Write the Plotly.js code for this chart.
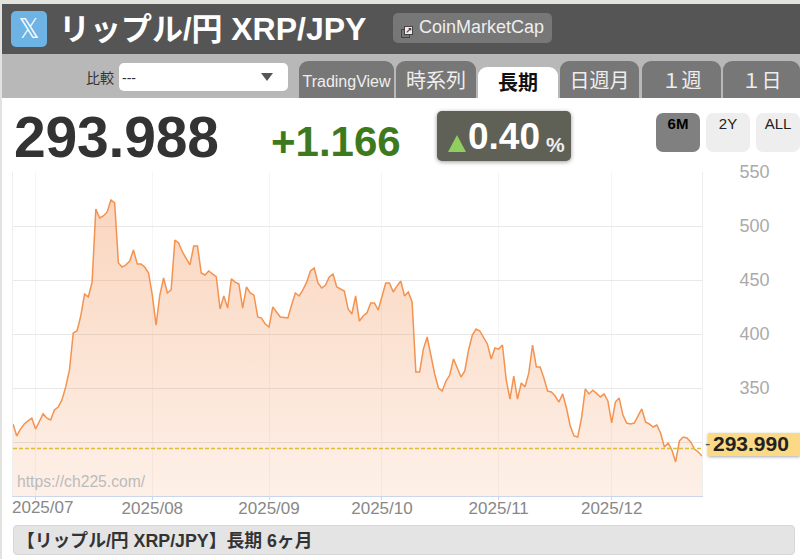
<!DOCTYPE html>
<html lang="ja">
<head>
<meta charset="utf-8">
<script src="https://cdn.plot.ly/plotly-3.0.1.min.js"></script>
<style>
html,body{margin:0;padding:0;width:800px;height:559px;overflow:hidden;background:#fff;
 font-family:"Liberation Sans","Noto Sans CJK JP",sans-serif;}
.a{position:absolute;white-space:nowrap;box-sizing:border-box;}
.tab{top:61px;height:37px;background:#777;color:#eee;border-radius:9px 9px 0 0;text-align:center;font-size:20px;line-height:41px;}
.rb{top:113px;width:44px;height:39px;border-radius:7px;background:#eee;color:#222;text-align:center;font-size:15px;line-height:22px;}
#chart{position:absolute;left:0;top:0;width:800px;height:559px;}
</style>
</head>
<body>
<div class="a" style="left:0;top:0;width:800px;height:4px;background:#e2e2de"></div>
<div class="a" style="left:0;top:0;width:2px;height:559px;background:#e2e2de"></div>
<div class="a" style="left:2px;top:4px;width:798px;height:50px;background:#555"></div>
<div class="a" style="left:2px;top:54px;width:798px;height:44px;background:#b8b8b8"></div>
<div class="a" style="left:11px;top:11px;width:36px;height:36px;background:#6db3e4;border-radius:5px;color:#fff;text-align:center;font:26px/36px 'DejaVu Sans'">𝕏</div>
<div class="a" id="ttl" style="left:59px;top:11px;color:#fff;font-weight:bold;font-size:31px;line-height:36px">リップル/円 <span style="font-size:32px">XRP/JPY</span></div>
<div class="a" style="left:393px;top:13px;width:159px;height:30px;background:#777;border-radius:5px;color:#eee;font-size:18px;line-height:29px;padding-left:26px">CoinMarketCap</div>
<div class="a" style="left:401px;top:29px;width:9px;height:9px;border:1px solid #444"></div>
<div class="a" style="left:404px;top:26px;width:9px;height:9px;background:#eee;border:1px solid #444;color:#333;font:bold 8px/7px 'DejaVu Sans';text-align:center">↗</div>
<div class="a" style="left:86px;top:68px;color:#333;font-size:14px;line-height:20px">比較</div>
<div class="a" style="left:119px;top:63px;width:169px;height:28px;background:#fff;border-radius:5px;color:#333;font-size:14px;line-height:30px;padding-left:3px">---</div>
<div class="a" style="left:261px;top:73px;width:0;height:0;border-left:6px solid transparent;border-right:6px solid transparent;border-top:8px solid #555"></div>
<div class="a tab" style="left:299px;width:95px;font-size:16px">TradingView</div>
<div class="a tab" style="left:396px;width:80px">時系列</div>
<div class="a tab" style="left:478px;top:67px;height:31px;width:80px;background:#fff;color:#111;font-weight:bold;line-height:33px">長期</div>
<div class="a tab" style="left:560px;width:79px">日週月</div>
<div class="a tab" style="left:642px;width:79px">１週</div>
<div class="a tab" style="left:723px;width:77px">１日</div>
<div class="a" style="left:14px;top:102px;color:#333;font-weight:bold;font-size:57px;line-height:70px;letter-spacing:-.2px">293.988</div>
<div class="a" style="left:271px;top:117px;color:#3d7a1e;font-weight:bold;font-size:42px;line-height:50px">+1.166</div>
<div class="a" style="left:437px;top:111px;width:134px;height:50px;background:#5f6156;border-radius:5px;box-shadow:0 1px 4px #999"></div>
<div class="a" style="left:448px;top:135px;width:0;height:0;border-left:9px solid transparent;border-right:9px solid transparent;border-bottom:17px solid #8fce5f"></div>
<div class="a" style="left:468px;top:114px;color:#fff;font-weight:bold;font-size:37px;line-height:46px">0.40</div>
<div class="a" style="left:546px;top:131px;color:#eee;font-weight:bold;font-size:21px;line-height:28px">%</div>
<div class="a rb" style="left:656px;background:#808080;color:#000;font-weight:bold">6M</div>
<div class="a rb" style="left:706px">2Y</div>
<div class="a rb" style="left:756px">ALL</div>
<div class="a" style="left:708px;top:433px;width:92px;height:23px;background:#fbd985;box-shadow:0 1px 3px #aaa"></div>
<div class="a" style="left:13px;top:525px;width:782px;height:30px;background:#e4e4e4;border:1px solid #d6d6d6;border-radius:4px;color:#333;font-weight:bold;font-size:17.8px;line-height:30px;padding-left:3px">【リップル/円 XRP/JPY】長期 6ヶ月</div>
<div id="chart"></div>
<script>
var startDate = "2025-06-25";
var lastPrice = 293.99;
var lastPriceText = "293.990";
var priceValues = [
316.7,305.6,312,316.7,319.5,322,312,319.5,326,322,320.4,329.6,332.4,339,351,366.7,401,402.8,416.7,437,
434.3,448,515.8,507.4,509.3,513,524,521.3,465.8,462,464,467.6,477.8,464.8,464.8,462,456.5,436,408.3,436,
451.9,438,440.8,487,484.3,476,469.5,464,481.5,481.5,456.5,454.6,458.4,455.6,452.8,423.2,435.2,424,451,448,
446.3,424,443.5,438,436,415.8,414.8,409.3,406.5,425,420.4,415.8,415.3,414.8,426.9,438,435.2,440.8,448,458.4,
461,447.2,442.6,445.4,452.8,455.6,443.5,441.7,439.8,423.2,418.5,435.2,412,416.7,419.5,428.7,428.7,422.2,434.3,447.2,
447.2,438.9,444.5,449,435.2,438.9,429.6,364.8,364.8,386,397.2,380,363,350,347.2,356.5,362,376.9,368.5,360.2,
365.8,385.2,399,404.6,402.8,397.2,390.8,376.9,387,386,389.8,357.4,339.8,361,339.8,354.6,351,364,389.8,369.5,
369.5,359.3,347.2,346.3,342.6,337,344.5,331.5,314.8,305.6,304.6,322.2,349,344.5,348,345,341.7,344.5,338,317.6,
337,340.7,325,317.6,316.7,317.6,324,330.6,318.5,316.7,313.9,315.7,308.3,295.4,299,292.6,281.5,301,304.6,303.7,
300,293.5,290.7,287
];
var xTickVals = ["2025-08-01","2025-09-01","2025-10-01","2025-11-01","2025-12-01"];
var xTickText = ["2025/08","2025/09","2025/10","2025/11","2025/12"];
var gridVals = ["2025-07-01"].concat(xTickVals);
var yTickVals = [300,350,400,450,500,550];
var yTickText = ["","350","400","450","500","550"];

var dates = priceValues.map(function(_, i){
  var d = new Date(startDate + "T00:00:00Z");
  d.setUTCDate(d.getUTCDate() + i);
  return d.toISOString().slice(0,10);
});
var first = dates[0], last = dates[dates.length-1];
var font = "Liberation Sans";

var area = {
  x: dates, y: priceValues, type:"scatter", mode:"lines", fill:"tozeroy",
  line:{color:"#f4924f", width:1.5},
  fillgradient:{type:"vertical", start:250, stop:525,
    colorscale:[[0,"rgba(240,130,60,0.12)"],[1,"rgba(240,130,60,0.33)"]]},
  hoverinfo:"skip", showlegend:false
};
var layout = {
  width:800, height:559, margin:{l:13,r:98,t:172,b:63,pad:0},
  paper_bgcolor:"rgba(0,0,0,0)", plot_bgcolor:"rgba(0,0,0,0)", showlegend:false,
  xaxis:{type:"date", range:[first,last], tickmode:"array", tickvals:gridVals,
    ticktext:[""].concat(xTickText), tickfont:{family:font,size:17,color:"#888"},
    showgrid:true, gridcolor:"#f5f5f5", gridwidth:1, zeroline:false, showline:true, linecolor:"#ccd6eb",
    ticks:"outside", ticklen:3, tickcolor:"#ccd6eb", ticklabelstandoff:-6},
  yaxis:{range:[250,550], side:"right", tickmode:"array", tickvals:yTickVals, ticktext:yTickText,
    tickfont:{family:font,size:18,color:"#aaa"}, ticklabelstandoff:33, gridcolor:"#e8e8e8", gridwidth:1,
    zeroline:false, showline:true, mirror:true, linecolor:"#eee", ticks:""},
  shapes:[{type:"line", xref:"paper", x0:0, x1:1, yref:"y", y0:lastPrice, y1:lastPrice,
    line:{color:"#dcbc3c", width:1.5, dash:"4px,2px"}}],
  annotations:[
    {xref:"x", x:"2025-07-01", yref:"paper", y:0, yanchor:"top", showarrow:false, xshift:7,
     text:"2025/07", font:{family:font,size:17,color:"#888"}},
    {xref:"paper", x:0, xanchor:"left", xshift:2, yref:"y", y:263, showarrow:false,
     text:"https://ch225.com/", font:{family:font,size:15.7,color:"#bbb"}},
    {xref:"paper", x:1, xanchor:"left", xshift:9, yref:"y", y:lastPrice, yshift:5, showarrow:false,
     text:"<b>"+lastPriceText+"</b>", font:{family:font,size:21,color:"#222"}},
    {xref:"paper", x:1, xanchor:"left", xshift:1, yref:"y", y:lastPrice, yshift:5, showarrow:false,
     text:"-", font:{family:font,size:16,color:"#555"}}
  ]
};
Plotly.newPlot("chart",[area],layout,{staticPlot:true,displayModeBar:false});
</script>
</body>
</html>
